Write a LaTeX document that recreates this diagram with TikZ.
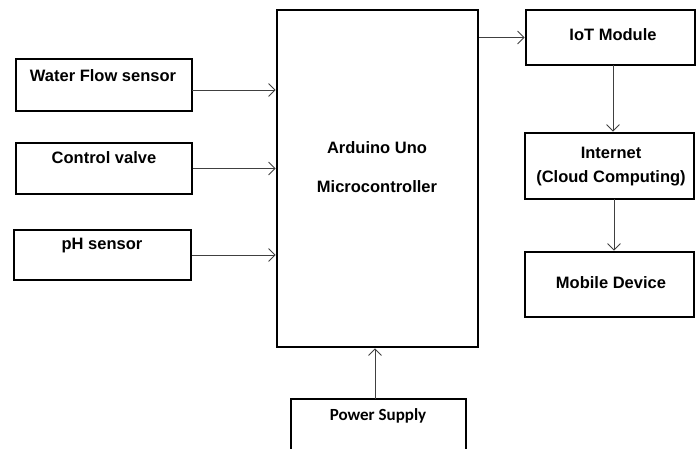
\documentclass[tikz,border=0pt]{standalone}
\usepackage{fontspec}
\setmainfont{Liberation Sans}
\newfontfamily\calibri{Carlito}
\usetikzlibrary{arrows.meta}
\tikzset{
  box/.style={draw=black, line width=2.8pt, inner sep=0pt, fill=white},
  txt/.style={font=\fontsize{16.5}{20}\selectfont\bfseries, inner sep=0pt, align=center},
  pstxt/.style={font=\calibri\fontsize{17}{20}\selectfont\bfseries, inner sep=0pt},
  arr/.style={line width=0.8pt, draw=black!75, -{Straight Barb[length=6.5pt,width=13pt,line width=0.8pt]}}
}
\begin{document}
\begin{tikzpicture}[x=1pt,y=-1pt]
\useasboundingbox (0,0) rectangle (696,448);
% boxes
\node[box, minimum width=176pt, minimum height=52pt] (wf) at (104,85) {};
\node[box, minimum width=176pt, minimum height=51pt] (cv) at (104,168.5) {};
\node[box, minimum width=177pt, minimum height=50pt] (ph) at (102.5,255) {};
\node[box, minimum width=201pt, minimum height=337pt] (ard) at (377.5,178.5) {};
\node[box, minimum width=169pt, minimum height=55pt] (iot) at (610.5,37.5) {};
\node[box, minimum width=169pt, minimum height=66pt] (inet) at (609.5,166) {};
\node[box, minimum width=169pt, minimum height=65pt] (mob) at (609.5,284.5) {};
\node[box, minimum width=175pt, minimum height=61pt] (ps) at (378.5,429.5) {};
% texts
\node[txt] (wft) at (103,76) {Water Flow sensor};
\node[txt] (cvt) at (104,158) {Control valve};
\node[txt] (pht) at (102,246) {pH sensor};
\node[txt] (ardt1) at (377,148) {Arduino Uno};
\node[txt] (ardt2) at (377,187) {Microcontroller};
\node[txt] (iott) at (613,35) {IoT Module};
\node[txt] (inett1) at (611,153) {Internet};
\node[txt] (inett2) at (611,178) {(Cloud Computing)};
\node[txt] (mobt) at (611,283) {Mobile Device};
\node[pstxt] (pst) at (378,416) {Power Supply};
% connectors
\coordinate (wfa) at (192,90);
\draw[arr] (wfa) -- (wfa -| ard.west);
\draw[arr] (cv.east) -- (cv.east -| ard.west);
\draw[arr] (ph.east) -- (ph.east -| ard.west);
\draw[arr] (ard.east |- iot.west) -- (iot.west);
\coordinate (iotb) at (613,65);
\draw[arr] (iotb) -- (iotb |- inet.north);
\coordinate (inetb) at (614,199);
\draw[arr] (inetb) -- (inetb |- mob.north);
\coordinate (psa) at (375,399);
\draw[arr] (psa) -- (psa |- ard.south);
\end{tikzpicture}
\end{document}
